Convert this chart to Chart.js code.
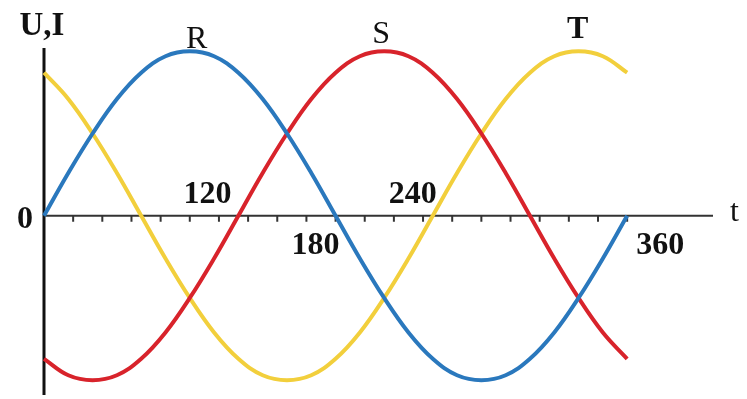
<!DOCTYPE html>
<html>
<head>
<meta charset="utf-8">
<script src="https://cdn.jsdelivr.net/npm/chart.js@4.4.0/dist/chart.umd.min.js"></script>
<style>
  html, body { margin: 0; padding: 0; background: #fff; }
  #chart { display: block; }
</style>
</head>
<body>
<canvas id="chart" width="747" height="399"></canvas>
<script>
// angle in degrees
const degrees = [0, 15, 30, 45, 60, 75, 90, 105, 120, 135, 150, 165, 180,
                 195, 210, 225, 240, 255, 270, 285, 300, 315, 330, 345, 360];

// -1..1
const seriesR = [0, 0.26, 0.5, 0.71, 0.87, 0.97, 1, 0.97, 0.87, 0.71, 0.5, 0.26, 0,
                 -0.26, -0.5, -0.71, -0.87, -0.97, -1, -0.97, -0.87, -0.71, -0.5, -0.26, 0];
const seriesS = [-0.87, -0.97, -1, -0.97, -0.87, -0.71, -0.5, -0.26, 0, 0.26, 0.5, 0.71, 0.87,
                 0.97, 1, 0.97, 0.87, 0.71, 0.5, 0.26, 0, -0.26, -0.5, -0.71, -0.87];
const seriesT = [0.87, 0.71, 0.5, 0.26, 0, -0.26, -0.5, -0.71, -0.87, -0.97, -1, -0.97, -0.87,
                 -0.71, -0.5, -0.26, 0, 0.26, 0.5, 0.71, 0.87, 0.97, 1, 0.97, 0.87];

const seriesNames = ['R', 'S', 'T'];
const seriesPeakAt = [90, 210, 330];

const tickDegrees = [18, 36, 54, 72, 90, 108, 126, 144, 162, 180,
                     198, 216, 234, 252, 270, 288, 306, 324, 342, 360];
const labelDegrees = [120, 180, 240, 360];
const labelTexts = ['120', '180', '240', '360'];

const colors = ['#2a78bd', '#d8232b', '#f2cf3c'];
const serif = '"Liberation Serif", "DejaVu Serif", serif';

function toPoints(values) {
    return values.map((v, i) => ({ x: degrees[i], y: v }));
}

const axesPlugin = {
    id: 'axes',
    beforeDatasetsDraw(chart) {
        const ctx = chart.ctx;
        const x = chart.scales.x;
        const y = chart.scales.y;
        const x0 = x.getPixelForValue(0);
        const y0 = y.getPixelForValue(0);
        ctx.save();
        // y axis
        ctx.strokeStyle = '#111';
        ctx.lineWidth = 3;
        ctx.beginPath();
        ctx.moveTo(x0, chart.chartArea.top);
        ctx.lineTo(x0, chart.chartArea.bottom);
        ctx.stroke();
        // x axis
        ctx.strokeStyle = '#333';
        ctx.lineWidth = 2;
        ctx.beginPath();
        ctx.moveTo(x0, y0);
        ctx.lineTo(chart.chartArea.right, y0);
        ctx.stroke();
        // tick marks
        ctx.lineWidth = 2;
        tickDegrees.forEach(d => {
            const px = x.getPixelForValue(d);
            ctx.beginPath();
            ctx.moveTo(px, y0);
            ctx.lineTo(px, y0 + 6);
            ctx.stroke();
        });
        ctx.restore();
    },
    afterDraw(chart) {
        const ctx = chart.ctx;
        const x = chart.scales.x;
        const y = chart.scales.y;
        const x0 = x.getPixelForValue(0);
        const y0 = y.getPixelForValue(0);
        ctx.save();
        ctx.fillStyle = '#111';
        ctx.textBaseline = 'alphabetic';

        ctx.font = 'bold 33px ' + serif;
        ctx.textAlign = 'center';
        ctx.fillText('U,I', x0 - 2, 35);
        ctx.font = 'bold 32px ' + serif;
        ctx.textAlign = 'right';
        ctx.fillText('0', x0 - 11, y0 + 12);

        // degree labels: 120/240 above the axis, 180/360 below
        const dx = [-31, -20, -20, 33];
        labelDegrees.forEach((d, i) => {
            const px = x.getPixelForValue(d) + dx[i];
            const above = i % 2 === 0;
            ctx.textAlign = 'center';
            ctx.fillText(labelTexts[i], px, above ? y0 - 13 : y0 + 38);
        });

        ctx.font = '32px ' + serif;
        ctx.textAlign = 'left';
        ctx.fillText('t', chart.chartArea.right + 17, y0 + 5);

        // phase names above their peaks
        const nameDx = [7, -3, -1];
        const nameDy = [3, 8, 13];
        seriesNames.forEach((name, i) => {
            const px = x.getPixelForValue(seriesPeakAt[i]);
            const py = y.getPixelForValue(1);
            ctx.font = (i === 2 ? 'bold ' : '') + '32px ' + serif;
            ctx.textAlign = 'center';
            ctx.fillText(name, px + nameDx[i], py - nameDy[i]);
        });
        ctx.restore();
    }
};

new Chart(document.getElementById('chart'), {
    type: 'line',
    data: {
        datasets: [seriesR, seriesS, seriesT].map((s, i) => ({
            label: seriesNames[i],
            data: toPoints(s),
            borderColor: colors[i],
            borderWidth: 4,
            pointRadius: 0,
            fill: false,
            tension: 0.4,
            clip: false
        }))
    },
    options: {
        responsive: false,
        animation: false,
        layout: { padding: { left: 44, top: 48, right: 34, bottom: 4 } },
        plugins: { legend: { display: false }, tooltip: { enabled: false } },
        scales: {
            x: { type: 'linear', min: 0, max: 413, display: false },
            y: { min: -1.09, max: 1.02, display: false }
        }
    },
    plugins: [axesPlugin]
});
</script>
</body>
</html>
